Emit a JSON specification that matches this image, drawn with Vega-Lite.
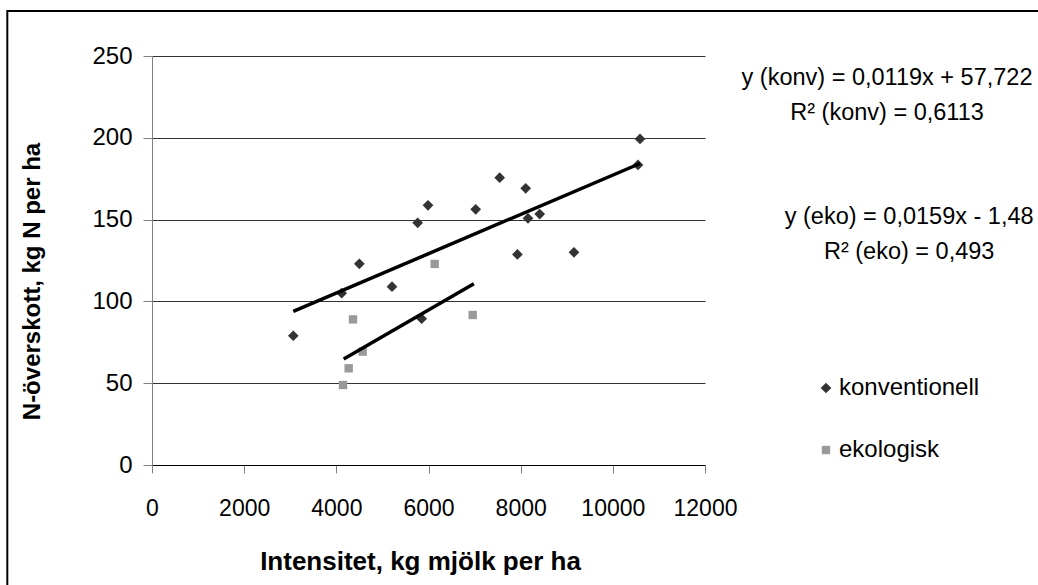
{
  "$schema": "https://vega.github.io/schema/vega-lite/v6.json",
  "width": 553,
  "height": 409,
  "autosize": "none",
  "padding": {"left": 152, "top": 56, "right": 333, "bottom": 120},
  "background": "white",
  "config": {
    "view": {"stroke": null},
    "font": "Liberation Sans",
    "axis": {"labelFont": "Liberation Sans", "titleFont": "Liberation Sans", "labelColor": "black", "titleColor": "black", "labelOverlap": false, "labelFlush": false}
  },
  "datasets": {
    "points": [
      {"typ": "konventionell", "intensitet": 3066, "n": 79},
      {"typ": "konventionell", "intensitet": 4116, "n": 105},
      {"typ": "konventionell", "intensitet": 4499, "n": 123},
      {"typ": "konventionell", "intensitet": 5208, "n": 109},
      {"typ": "konventionell", "intensitet": 5765, "n": 148},
      {"typ": "konventionell", "intensitet": 5989, "n": 158.7},
      {"typ": "konventionell", "intensitet": 5852, "n": 89.4},
      {"typ": "konventionell", "intensitet": 7024, "n": 156.3},
      {"typ": "konventionell", "intensitet": 7545, "n": 175.6},
      {"typ": "konventionell", "intensitet": 7930, "n": 128.7},
      {"typ": "konventionell", "intensitet": 8109, "n": 169.1},
      {"typ": "konventionell", "intensitet": 8159, "n": 150.8},
      {"typ": "konventionell", "intensitet": 8413, "n": 153.4},
      {"typ": "konventionell", "intensitet": 9157, "n": 130},
      {"typ": "konventionell", "intensitet": 10590, "n": 199.3},
      {"typ": "konventionell", "intensitet": 10546, "n": 183.4},
      {"typ": "ekologisk", "intensitet": 4145, "n": 48.9},
      {"typ": "ekologisk", "intensitet": 4268, "n": 59.1},
      {"typ": "ekologisk", "intensitet": 4362, "n": 89},
      {"typ": "ekologisk", "intensitet": 4572, "n": 69.3},
      {"typ": "ekologisk", "intensitet": 6134, "n": 122.9},
      {"typ": "ekologisk", "intensitet": 6959, "n": 91.7}
    ],
    "trend": [
      {"serie": "konv", "intensitet": 3066, "n": 93.9},
      {"serie": "konv", "intensitet": 10590, "n": 184.3},
      {"serie": "eko", "intensitet": 4160, "n": 64.8},
      {"serie": "eko", "intensitet": 6985, "n": 110.8}
    ],
    "one": [{}]
  },
  "layer": [
    {
      "data": {"name": "one"},
      "mark": {"type": "rect", "fill": null, "stroke": "black", "strokeWidth": 2},
      "encoding": {
        "x": {"datum": -3140, "type": "quantitative", "scale": {"domain": [0, 12000]}},
        "x2": {"datum": 30000},
        "y": {"datum": 277.5, "type": "quantitative", "scale": {"domain": [0, 250]}},
        "y2": {"datum": -150}
      }
    },
    {
      "data": {"name": "points"},
      "mark": {"type": "point", "filled": true, "opacity": 1},
      "encoding": {
        "x": {
          "field": "intensitet", "type": "quantitative",
          "scale": {"domain": [0, 12000], "nice": false, "zero": false},
          "axis": {
            "title": "Intensitet, kg mjölk per ha",
            "values": [0, 2000, 4000, 6000, 8000, 10000, 12000],
            "format": "d",
            "grid": false,
            "domainColor": "black",
            "tickColor": "#808080",
            "tickSize": 8,
            "labelFontSize": 23,
            "labelPadding": 24,
            "titleFontSize": 26,
            "titleFontWeight": "bold",
            "titlePadding": 28,
            "titleX": 268
          }
        },
        "y": {
          "field": "n", "type": "quantitative",
          "scale": {"domain": [0, 250], "nice": false},
          "axis": {
            "title": "N-överskott, kg N per ha",
            "values": [0, 50, 100, 150, 200, 250],
            "grid": true,
            "gridColor": "#333333",
            "gridOpacity": 1,
            "domainColor": "#808080",
            "tickColor": "#808080",
            "tickSize": 9,
            "labelFontSize": 24,
            "labelPadding": 11,
            "titleFontSize": 24,
            "titleFontWeight": "bold",
            "titlePadding": 47,
            "titleY": 225
          }
        },
        "color": {
          "field": "typ", "type": "nominal",
          "scale": {"domain": ["konventionell", "ekologisk"], "range": ["#333333", "#999999"]},
          "legend": {
            "title": null,
            "orient": "none",
            "legendX": 662,
            "legendY": 320,
            "labelFontSize": 24,
            "labelFont": "Liberation Sans",
            "labelColor": "black",
            "symbolSize": 64,
            "rowPadding": 38,
            "labelOffset": 1
          }
        },
        "shape": {
          "field": "typ", "type": "nominal",
          "scale": {"domain": ["konventionell", "ekologisk"], "range": ["diamond", "square"]}
        },
        "size": {
          "field": "typ", "type": "nominal",
          "scale": {"domain": ["konventionell", "ekologisk"], "range": [115, 70]},
          "legend": null
        }
      }
    },
    {
      "data": {"name": "trend"},
      "mark": {"type": "line", "color": "black", "strokeWidth": 3.5},
      "encoding": {
        "x": {"field": "intensitet", "type": "quantitative"},
        "y": {"field": "n", "type": "quantitative"},
        "detail": {"field": "serie"}
      }
    },
    {
      "data": {"name": "one"},
      "mark": {"type": "text", "fontSize": 23.5, "font": "Liberation Sans", "align": "center", "baseline": "middle", "lineHeight": 35},
      "encoding": {
        "x": {"datum": 15950, "type": "quantitative"},
        "y": {"datum": 236.5, "type": "quantitative"},
        "text": {"value": ["y (konv) = 0,0119x + 57,722", "R² (konv) = 0,6113"]}
      }
    },
    {
      "data": {"name": "one"},
      "mark": {"type": "text", "fontSize": 23.5, "font": "Liberation Sans", "align": "center", "baseline": "middle", "lineHeight": 35},
      "encoding": {
        "x": {"datum": 16430, "type": "quantitative"},
        "y": {"datum": 151.6, "type": "quantitative"},
        "text": {"value": ["y (eko) = 0,0159x - 1,48", "R² (eko) = 0,493"]}
      }
    }
  ]
}
